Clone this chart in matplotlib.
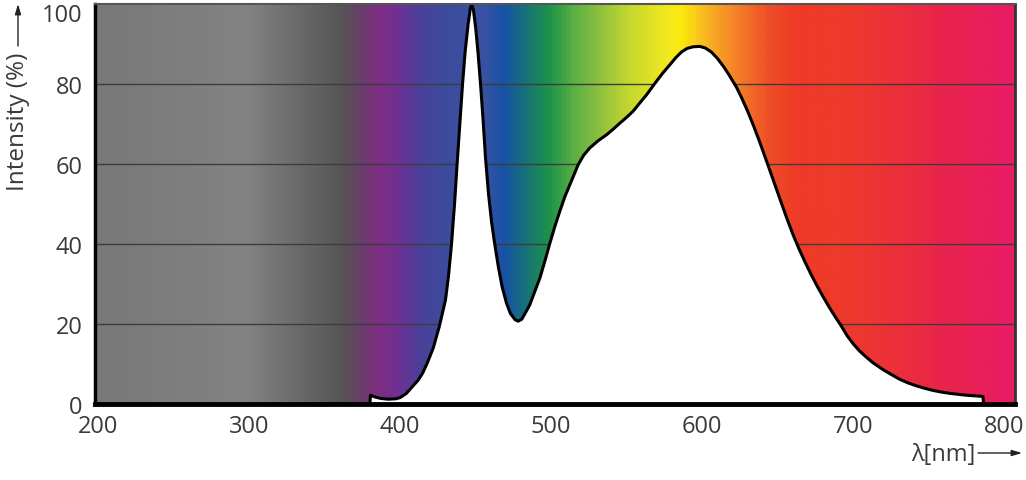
import numpy as np
import matplotlib
matplotlib.use('Agg')
import matplotlib.pyplot as plt
from matplotlib.colors import LinearSegmentedColormap
from matplotlib.transforms import ScaledTranslation

plt.rcParams['font.family'] = ['Open Sans', 'DejaVu Sans']

# ─── Spectrum (wavelength nm, relative intensity %) ───
wavelength = [380, 380.3, 383, 387, 392, 397, 400, 404, 408, 412, 415, 418,
              421.9, 426, 430, 432, 434, 436, 437.7, 439.5, 441.3, 443, 445,
              446.5, 447.3, 448.5, 450, 451.5, 453.2, 455, 456.5, 458.5,
              460.5, 462.6, 465, 467.5, 470.4, 473, 476, 478.1, 480.5, 483.5,
              485.8, 489, 492.5, 496, 499.1, 502.5, 505.7, 509, 512.3, 517.8,
              521.5, 525.5, 531, 536.6, 541, 545.4, 550, 554.2, 558.5, 563.1,
              569.7, 574, 578.5, 582.5, 586.2, 590, 593.9, 598.3, 602, 606,
              610, 614, 618, 622.6, 626, 630, 634, 638, 643.5, 648, 652, 656,
              660, 664, 668, 672, 676, 680, 684, 688, 692, 696, 700, 704, 708,
              713, 720, 725, 730.6, 736, 742, 747, 752.7, 758, 764, 770,
              774.8, 782, 785.8, 786.2]
intensity = [0, 2.2, 1.8, 1.4, 1.2, 1.3, 1.6, 2.6, 4.3, 6.0, 7.8, 10.3,
             14, 19.5, 26, 32, 40, 50, 60, 70, 80, 88, 95,
             99, 100, 98.5, 94, 88, 80, 70.5, 61.5, 52.5,
             45.5, 40, 34.3, 29.3, 25.2, 22.6, 21.1, 20.7, 21.2, 23.2,
             24.8, 28, 31.5, 36, 40.2, 44.5, 48.2, 51.8, 54.8, 59.8,
             62.2, 64, 65.8, 67.3, 68.7, 70.2, 71.7, 73.2, 75.2, 77.3,
             80.7, 82.8, 84.8, 86.6, 88.0, 88.9, 89.3, 89.4, 89.0, 88.0,
             86.4, 84.4, 82.1, 79.2, 76.6, 73.2, 69.5, 65.5, 59.7, 54.9, 50.6,
             46.4, 42.4, 38.8, 35.5, 32.4, 29.5, 26.8, 24.2, 21.8, 19.5, 17.0,
             15.0, 13.3, 11.9, 10.3, 8.5, 7.4, 6.2, 5.3, 4.5, 3.95, 3.4, 3.0,
             2.65, 2.4, 2.2, 2.0, 1.9, 0]

x_ticks = [200, 300, 400, 500, 600, 700, 800]
y_ticks = [0, 20, 40, 60, 80, 100]
x_range = (198, 807)

# background colour bands (nm, colour)
band_nm = [198, 297, 361, 375, 386, 398, 412, 428, 455, 469, 482, 499, 515,
           532, 552, 578, 587, 605, 625, 644, 664, 697, 731, 764, 807]
band_col = ['#787878', '#838383', '#555555', '#6c3b6c', '#7e2d83', '#6e3193',
            '#4c3f99', '#3d4b9d', '#3a52a2', '#1752a6', '#18707c', '#1e9448',
            '#5aaf44', '#8dc03f', '#c4d82e', '#f5ea1e', '#fbe90d', '#f7b023',
            '#f47c28', '#ef4f28', '#ee3a26', '#ee3a2b', '#ec2f3c', '#e8234d',
            '#e81c66']

txt_col = '#3a3a3a'

# ─── Figure ──────────────────────────────────────────────────────────
fig = plt.figure(figsize=(10.26, 4.81), dpi=100)
ax = fig.add_axes([95 / 1026, 1 - 405 / 481, 920 / 1026, 400 / 481])

span = x_range[1] - x_range[0]
cmap = LinearSegmentedColormap.from_list(
    'spec', [((n - x_range[0]) / span, c) for n, c in zip(band_nm, band_col)])
grad = np.linspace(0, 1, 1200).reshape(1, -1)
ax.imshow(grad, cmap=cmap, aspect='auto', interpolation='bilinear',
          extent=[x_range[0], x_range[1], 0, 100], zorder=0)

for yv in y_ticks[1:-1]:
    ax.axhline(yv, color='#3c3c3c', lw=1.0, zorder=1)

ax.fill_between(wavelength, intensity, 0, color='white', lw=0, zorder=2)
ax.plot(wavelength, intensity, color='black', lw=2.2, zorder=3,
        solid_joinstyle='round')

ax.set_xlim(*x_range)
ax.set_ylim(0, 100)
ax.set_xticks(x_ticks)
ax.set_yticks(y_ticks)
ax.tick_params(length=0, labelsize=17, colors=txt_col)
ax.tick_params(axis='x', pad=7)
ax.tick_params(axis='y', pad=9)

for side, lw, col in [('left', 2.5, 'black'), ('bottom', 3.5, 'black'),
                      ('top', 1.5, '#555555'), ('right', 2.0, '#333333')]:
    ax.spines[side].set_linewidth(lw)
    ax.spines[side].set_color(col)
    ax.spines[side].set_zorder(4)

# top label sits a little lower in the reference
top_lbl = ax.get_yticklabels()[-1]
top_lbl.set_transform(top_lbl.get_transform()
                      + ScaledTranslation(0, -8 / 100, fig.dpi_scale_trans))

# axis titles with arrows
fig.text(18 / 1026, 1 - 122 / 481, 'Intensity (%)', rotation=90,
         ha='center', va='center', fontsize=17.5, color=txt_col)
fig.text(975 / 1026, 1 - 455 / 481, 'λ[nm]', ha='right', va='center',
         fontsize=17, color=txt_col)

arrow = dict(arrowstyle='-|>,head_length=0.6,head_width=0.18',
             color='#222222', lw=1.0, shrinkA=0, shrinkB=0)
ax.annotate('', xy=(18, 481 - 5), xytext=(18, 481 - 47),
            xycoords='figure pixels', textcoords='figure pixels',
            arrowprops=arrow, annotation_clip=False)
ax.annotate('', xy=(1022, 481 - 454), xytext=(978, 481 - 454),
            xycoords='figure pixels', textcoords='figure pixels',
            arrowprops=arrow, annotation_clip=False)

plt.savefig('out.png', dpi=100)
